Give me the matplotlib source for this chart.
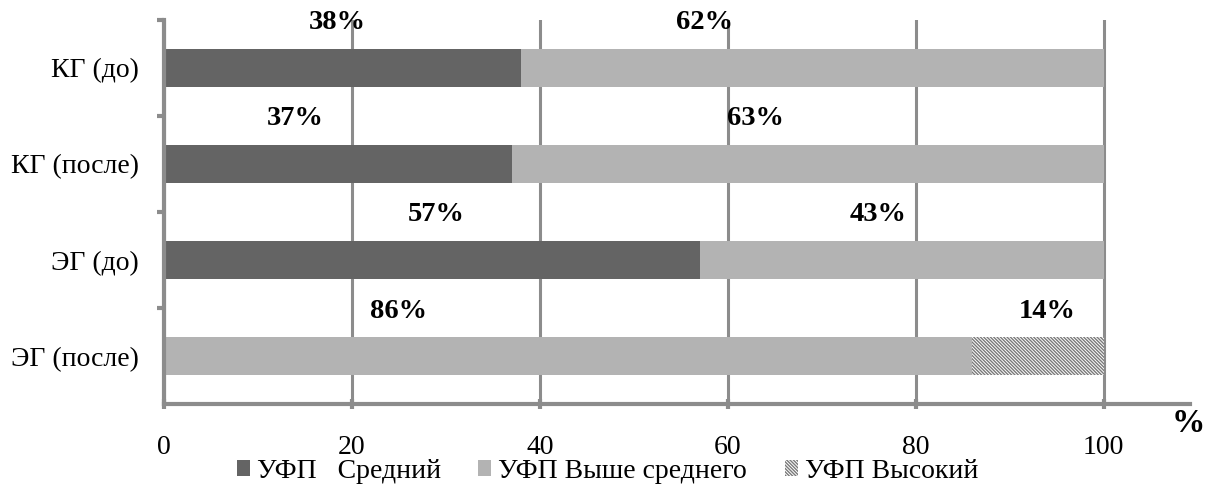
import matplotlib
matplotlib.use("Agg")
import matplotlib.pyplot as plt
import numpy as np

plt.rcParams['font.family'] = ['Liberation Serif', 'DejaVu Serif']
plt.rcParams['hatch.linewidth'] = 1.0

# groups, top to bottom
groups = ['КГ (до)', 'КГ (после)', 'ЭГ (до)', 'ЭГ (после)']
avg = [38, 37, 57, 0]
above_avg = [62, 63, 43, 86]
high = [0, 0, 0, 14]
series_names = ['УФП   Средний', 'УФП Выше среднего', 'УФП Высокий']

# value labels and where they sit along the axis
label_text = [['38%', '62%'], ['37%', '63%'], ['57%', '43%'], ['86%', '14%']]
label_x = [[18.5, 57.5], [14.0, 63.0], [29.0, 76.0], [25.0, 94.0]]

fig = plt.figure(figsize=(12.1, 4.84), dpi=100)
ax = fig.add_axes([0.1355, 0.165, 0.848, 0.7935])

y = np.arange(len(groups))
h = 0.39
grey_axis = '#8c8c8c'

b1 = ax.barh(y, avg, height=h, color='#646464', zorder=3)
b2 = ax.barh(y, above_avg, left=avg, height=h, color='#b3b3b3', zorder=3)
left3 = np.array(avg) + np.array(above_avg)
b3 = ax.barh(y, high, left=left3, height=h, color='white',
             edgecolor='#7a7a7a', hatch='\\' * 10, linewidth=0, zorder=3)

for i in range(len(groups)):
    for txt, xv in zip(label_text[i], label_x[i]):
        ax.text(xv, i - 0.47, txt, ha='center', va='center',
                fontsize=20.5, fontweight='bold', zorder=4)

ax.set_xlim(0, 109.2)
ax.set_ylim(3.5, -0.5)
ax.set_xticks([0, 20, 40, 60, 80, 100])
ax.set_yticks(y)
ax.set_yticklabels(groups, fontsize=20)
ax.set_yticks(np.arange(-0.5, 3.5, 1), minor=True)
ax.tick_params(axis='y', which='major', length=0, pad=18)
ax.tick_params(axis='y', which='minor', length=5, width=3, color=grey_axis,
               direction='out')
ax.tick_params(axis='x', length=7, width=3, color=grey_axis, direction='inout',
               labelsize=20, pad=19)

ax.grid(axis='x', color=grey_axis, linewidth=2.2, zorder=0)
for side in ['top', 'right']:
    ax.spines[side].set_visible(False)
for side in ['left', 'bottom']:
    ax.spines[side].set_color(grey_axis)
    ax.spines[side].set_linewidth(3)
    ax.spines[side].set_zorder(5)

fig.text(0.982, 0.126, '%', fontsize=24, fontweight='bold', ha='center', va='center')

fig.legend([b1, b2, b3], series_names, loc='center', bbox_to_anchor=(0.502, 0.026),
           ncol=3, frameon=False, fontsize=20, handlelength=0.47, handleheight=0.47,
           handletextpad=0.25, columnspacing=1.35, borderpad=0)

fig.savefig('out.png', dpi=100)
